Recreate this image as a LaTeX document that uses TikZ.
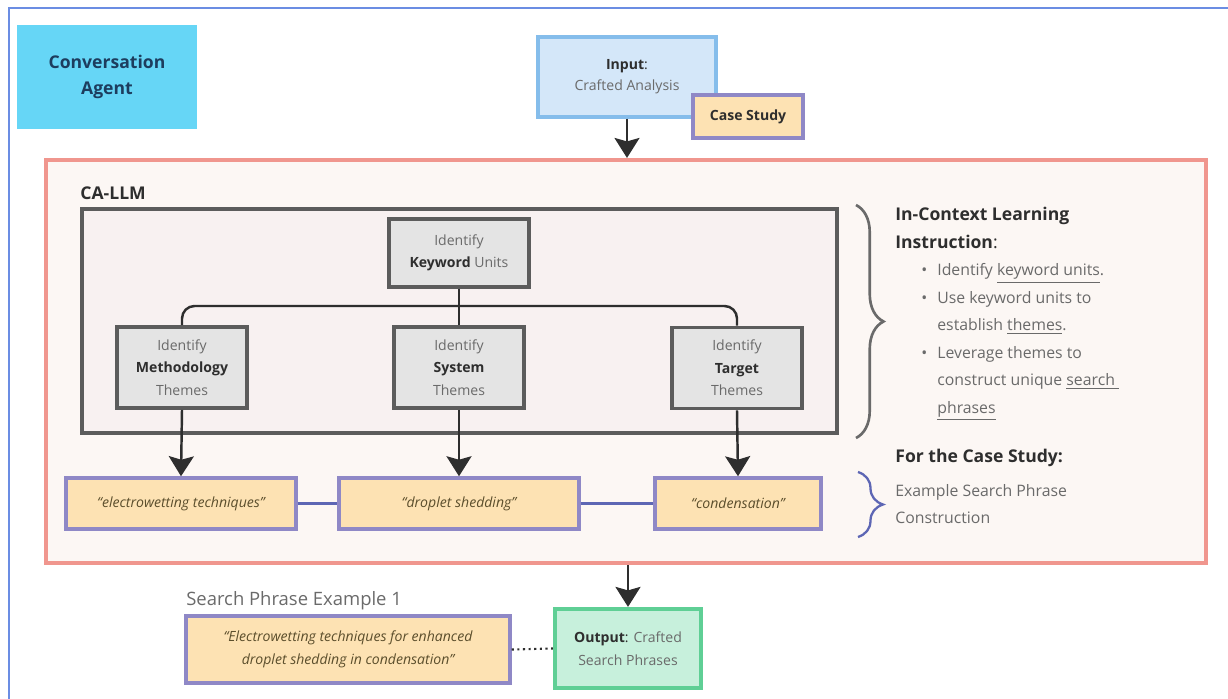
\documentclass[tikz,border=0pt]{standalone}
\usepackage{fontspec}
\setmainfont{Open Sans}
\usepackage{tikz}
\usetikzlibrary{arrows.meta,decorations.pathreplacing}

\definecolor{frameblue}{HTML}{6B8DE3}
\definecolor{agentfill}{HTML}{66D6F6}
\definecolor{agenttext}{HTML}{1D3D5E}
\definecolor{inputfill}{HTML}{D4E7F9}
\definecolor{inputdraw}{HTML}{85BDEB}
\definecolor{phrasefill}{HTML}{FDE2B3}
\definecolor{phrasedraw}{HTML}{8F88C6}
\definecolor{llmfill}{HTML}{FCF7F4}
\definecolor{llmdraw}{HTML}{F0968E}
\definecolor{innerfill}{HTML}{F8F1F1}
\definecolor{boxgray}{HTML}{5C5C5C}
\definecolor{themefill}{HTML}{E4E4E4}
\definecolor{outfill}{HTML}{C7F0DC}
\definecolor{outdraw}{HTML}{5FCF95}
\definecolor{softtext}{HTML}{6A6A6A}
\definecolor{darktext}{HTML}{2E2E2E}
\definecolor{quotetext}{HTML}{5B4E2C}
\definecolor{linkblue}{HTML}{5D66B4}

\tikzset{
  every node/.style={font=\fontsize{8}{12.8}\selectfont, text=darktext},
  themebox/.style={draw=boxgray, fill=themefill, line width=2.2pt, align=center,
    minimum width=2.6cm, minimum height=1.62cm, inner sep=1pt},
  phrasebox/.style={draw=phrasedraw, fill=phrasefill, line width=2pt, align=center,
    minimum height=1.02cm, inner sep=1pt,
    font=\fontsize{8}{12.8}\selectfont\itshape, text=quotetext},
  flow/.style={draw=darktext, line width=1.4pt,
    -{Stealth[width=0.5cm,length=0.4cm,inset=0.07cm]}},
  link/.style={draw=darktext, line width=1.4pt, rounded corners=0.25cm},
  sidetext/.style={anchor=west, align=left, inner sep=0pt, text=softtext,
    font=\fontsize{9}{15.7}\selectfont},
}

\begin{document}
\begin{tikzpicture}[x=0.02cm, y=-0.02cm]
  \useasboundingbox (0,0) rectangle (1228,699);

  % outer frame
  \draw[frameblue, line width=1.5pt] (9,699) -- (9,8) -- (1228,8);

  \node[fill=agentfill, minimum width=3.6cm, minimum height=2.08cm, align=center,
        font=\fontsize{10}{15}\selectfont\bfseries, text=agenttext] (agent) at (107,77)
        {Conversation\\Agent};

  % input
  \node[draw=inputdraw, fill=inputfill, line width=2pt, align=center,
        minimum width=3.56cm, minimum height=1.6cm] (input) at (627,77)
        {\textbf{Input}:\\[-1pt]{\color{softtext}Crafted Analysis}};
  \node[draw=phrasedraw, fill=phrasefill, line width=2pt, minimum width=2.2cm,
        minimum height=0.86cm, font=\fontsize{8}{10}\selectfont\bfseries] (case) at (748,116.5)
        {Case Study};

  % CA-LLM frame
  \node[draw=llmdraw, fill=llmfill, line width=2.4pt, minimum width=23.2cm,
        minimum height=8.06cm] (llm) at (626,361.5) {};
  \node[anchor=west, inner sep=0pt, font=\fontsize{10}{12}\selectfont\bfseries] (llmname)
        at (80,193) {CA-LLM};
  \node[draw=boxgray, fill=innerfill, line width=2.4pt, minimum width=15.1cm,
        minimum height=4.48cm] (inner) at (459.5,321) {};

  \node[themebox, minimum width=2.8cm, minimum height=1.36cm] (keyword) at (459,253)
        {{\color{softtext}Identify}\\\textbf{Keyword} {\color{softtext}Units}};
  \node[themebox] (method) at (182,367.5)
        {{\color{softtext}Identify}\\\textbf{Methodology}\\{\color{softtext}Themes}};
  \node[themebox] (system) at (459,367.5)
        {{\color{softtext}Identify}\\\textbf{System}\\{\color{softtext}Themes}};
  \node[themebox] (target) at (737,368)
        {{\color{softtext}Identify}\\\textbf{Target}\\{\color{softtext}Themes}};

  \coordinate (split) at (459,306);
  \draw[link] (keyword.south) -- (system.north);
  \draw[link] (split) -| (method.north);
  \draw[link] (split) -| (target.north);

  % search phrases
  \node[phrasebox, minimum width=4.6cm] (phraseA) at (181,503.5) {``electrowetting techniques''};
  \node[phrasebox, minimum width=4.8cm] (phraseB) at (459,503.5) {``droplet shedding''};
  \node[phrasebox, minimum width=3.32cm] (phraseC) at (738,503.5) {``condensation''};

  \draw[flow] (method.south) -- (phraseA.north);
  \draw[flow] (system.south) -- (phraseB.north);
  \draw[flow] (target.south) -- (phraseC.north);
  \draw[linkblue, line width=1.3pt] (phraseA.east) -- (phraseB.west);
  \draw[linkblue, line width=1.3pt] (phraseB.east) -- (phraseC.west);

  % braces
  \draw[softtext, line width=1.5pt, decorate, decoration={brace, amplitude=0.55cm}]
    (856,205) -- (856,438);
  \draw[linkblue, line width=1.3pt, decorate, decoration={brace, amplitude=0.5cm}]
    (858,472) -- (858,537);

  \node[sidetext] (icl) at (895,314)
    {{\color{darktext}\fontsize{10}{15.7}\selectfont\textbf{In-Context Learning}}\\
     {\color{darktext}\fontsize{10}{15.7}\selectfont\textbf{Instruction}:}\\
     \makebox[0.84cm][r]{\textbullet\hspace{0.2cm}}Identify \underline{keyword units}.\\
     \makebox[0.84cm][r]{\textbullet\hspace{0.2cm}}Use keyword units to\\
     \hspace*{0.84cm}establish \underline{themes}.\\
     \makebox[0.84cm][r]{\textbullet\hspace{0.2cm}}Leverage themes to\\
     \hspace*{0.84cm}construct unique \underline{search\ }\\
     \hspace*{0.84cm}\underline{phrases}};
  \node[sidetext, text=darktext, font=\fontsize{10}{12}\selectfont\bfseries] (forcase)
    at (895,458) {For the Case Study:};
  \node[sidetext] (construct) at (895,504) {Example Search Phrase\\Construction};

  % output
  \node[draw=outdraw, fill=outfill, line width=2.4pt, align=center,
        minimum width=2.92cm, minimum height=1.58cm] (output) at (628,648.5)
        {\textbf{Output}: {\color{softtext}Crafted}\\{\color{softtext}Search Phrases}};
  \draw[flow] (llm.south -| output.north) -- (output.north);

  \node[phrasebox, minimum width=6.48cm, minimum height=1.34cm] (example) at (348,649.5)
        {``Electrowetting techniques for enhanced\\droplet shedding in condensation''};
  \node[anchor=west, inner sep=0pt, text=softtext, font=\fontsize{10.5}{12}\selectfont]
        (exlabel) at (186,601) {Search Phrase Example 1};
  \draw[darktext, line width=1.2pt, dotted] (example.east) -- (output.west);

  \draw[flow] (input.south) -- (input.south |- llm.north);
\end{tikzpicture}
\end{document}
